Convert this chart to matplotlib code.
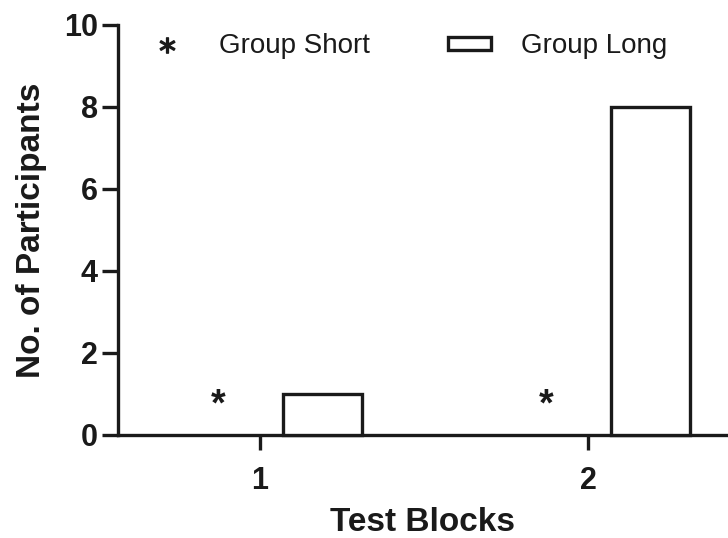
import matplotlib
matplotlib.use("Agg")
import matplotlib.pyplot as plt
from matplotlib.lines import Line2D
from matplotlib.patches import Patch
import numpy as np

plt.rcParams['font.family'] = ['Liberation Sans', 'DejaVu Sans']

categories = [1, 2]
tick_labels = ["1", "2"]
short_values = [0, 0]
long_values = [1, 8]
series_names = ["Group Short", "Group Long"]

ink = "#1a1a1a"
lw = 2.4

fig = plt.figure(figsize=(7.28, 5.38), dpi=100)
ax = fig.add_axes([118/728, 1-435/538, 1-118/728, (435-25)/538])

x = np.array(categories, dtype=float)
bar_w = 0.24
off_short = -0.127
off_long = 0.19

ax.bar(x + off_long, long_values, width=bar_w, facecolor="white",
       edgecolor=ink, linewidth=lw, zorder=3, clip_on=False)
ax.bar(x + off_short, short_values, width=bar_w, facecolor="none",
       edgecolor="none", linewidth=0)
for xi, v in zip(x + off_short, short_values):
    ax.annotate("*", xy=(xi, v), xytext=(0, 21), textcoords="offset points",
                ha="center", va="center", fontsize=27, fontweight="bold", color=ink)

ax.set_xlim(0.567, 2.427)
ax.set_ylim(0, 10)
ax.set_yticks([0, 2, 4, 6, 8, 10])
ax.set_xticks(categories)
ax.set_xticklabels(tick_labels)

for s in ["top", "right"]:
    ax.spines[s].set_visible(False)
for s in ["left", "bottom"]:
    ax.spines[s].set_linewidth(lw)
    ax.spines[s].set_color(ink)
    ax.spines[s].set_capstyle("projecting")

ax.tick_params(axis="y", length=11.5, width=lw, color=ink, pad=3,
               labelsize=22, labelcolor=ink)
ax.tick_params(axis="x", length=11, width=lw, color=ink, pad=11,
               labelsize=22, labelcolor=ink)
for lab in ax.get_xticklabels() + ax.get_yticklabels():
    lab.set_fontweight("bold")

ax.set_xlabel("Test Blocks", fontsize=24, fontweight="bold", color=ink, labelpad=8)
ax.set_ylabel("No. of Participants", fontsize=24, fontweight="bold", color=ink, labelpad=12)

handles = [
    Line2D([], [], linestyle="none", marker="$*$", markersize=11, color=ink),
    Patch(facecolor="white", edgecolor=ink, linewidth=lw),
]
leg = ax.legend(handles, series_names, loc="center left",
                bbox_to_anchor=(0.045, 0.948), ncol=2, frameon=False,
                fontsize=20, handlelength=1.55, handleheight=0.35,
                handletextpad=1.1, columnspacing=2.8, borderpad=0,
                borderaxespad=0)
for t in leg.get_texts():
    t.set_color(ink)

fig.savefig("out.png", dpi=100)
